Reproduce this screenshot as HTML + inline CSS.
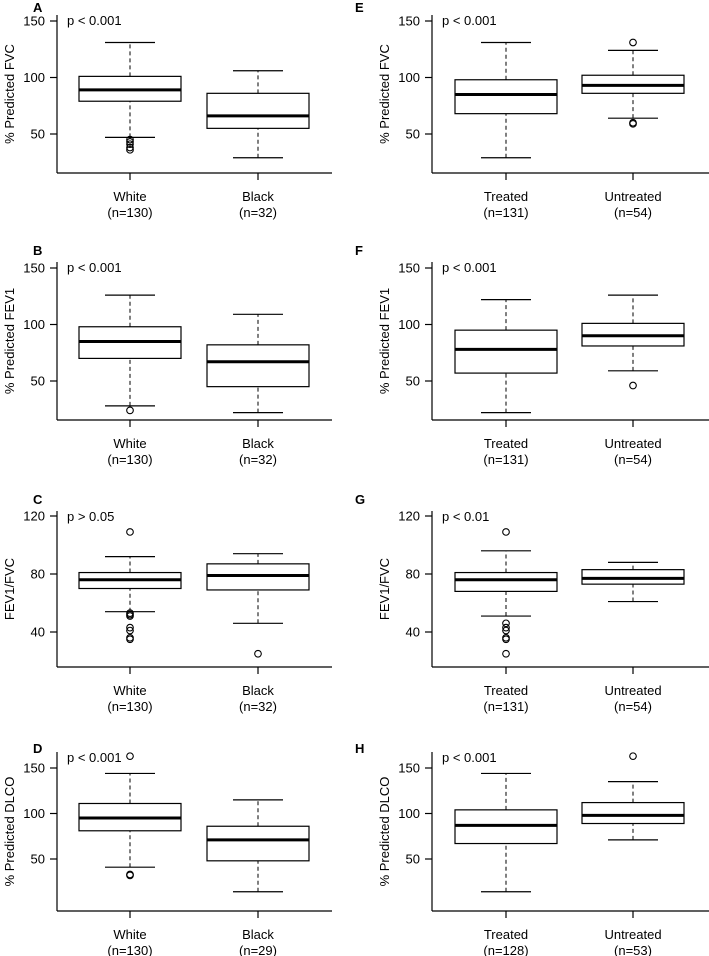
<!DOCTYPE html>
<html><head><meta charset="utf-8">
<style>
html,body{margin:0;padding:0;background:#fff;}
svg{display:block;font-family:"Liberation Sans",Arial,sans-serif;}
</style></head>
<body>
<svg id="fig" width="709" height="956" viewBox="0 0 709 956" xmlns="http://www.w3.org/2000/svg"></svg>
<script>
// ---- data ----
const panelLetters = ["A","E","B","F","C","G","D","H"];
const panelYTitles = ["% Predicted FVC","% Predicted FVC","% Predicted FEV1","% Predicted FEV1","FEV1/FVC","FEV1/FVC","% Predicted DLCO","% Predicted DLCO"];
const panelPValues = ["p < 0.001","p < 0.001","p < 0.001","p < 0.001","p > 0.05","p < 0.01","p < 0.001","p < 0.001"];
const raceCategories = ["White","Black"];
const treatCategories = ["Treated","Untreated"];
const panelCounts = [["130","32"],["131","54"],["130","32"],["131","54"],["130","32"],["131","54"],["130","29"],["128","53"]];
const pctTicks = [50,100,150];
const ratioTicks = [40,80,120];
// five-number summaries per panel: [lowWhisker, q1, median, q3, highWhisker]
const statsA = [[47,79,89,101,131],[29,55,66,86,106]];
const statsE = [[29,68,85,98,131],[64,86,93,102,124]];
const statsB = [[28,70,85,98,126],[22,45,67,82,109]];
const statsF = [[22,57,78,95,122],[59,81,90,101,126]];
const statsC = [[54,70,76,81,92],[46,69,79,87,94]];
const statsG = [[51,68,76,81,96],[61,73,77,83,88]];
const statsD = [[41,81,95,111,144],[14,48,71,86,115]];
const statsH = [[14,67,87,104,144],[71,89,98,112,135]];
const outA = [[36,38,41,43,45],[]];
const outE = [[],[59,60,131]];
const outB = [[24],[]];
const outF = [[],[46]];
const outC = [[109,53,52,51,43,41,36,35],[25]];
const outG = [[109,46,43,41,36,35,25],[]];
const outD = [[163,33,32],[]];
const outH = [[],[163]];
const panelStats = [statsA,statsE,statsB,statsF,statsC,statsG,statsD,statsH];
const panelOutliers = [outA,outE,outB,outF,outC,outG,outD,outH];

// ---- layout ----
const rows = [
  {top:15,bottom:173,v1:150,p1:21,v2:50,p2:134,ticks:pctTicks,letterY:12},
  {top:262,bottom:420,v1:150,p1:268,v2:50,p2:381,ticks:pctTicks,letterY:255},
  {top:511,bottom:667,v1:120,p1:516,v2:40,p2:632,ticks:ratioTicks,letterY:504},
  {top:752,bottom:911,v1:150,p1:768,v2:50,p2:859,ticks:pctTicks,letterY:753}
];
const cols = [
  {axisX:57,centers:[130,258],right:332,titleX:10,letterX:33,pX:67,cats:raceCategories},
  {axisX:432,centers:[506,633],right:709,titleX:385,letterX:355,pX:442,cats:treatCategories}
];
const NS="http://www.w3.org/2000/svg";
const svg=document.getElementById('fig');
function mk(tag,attrs,parent){const e=document.createElementNS(NS,tag);for(const k in attrs)e.setAttribute(k,attrs[k]);(parent||svg).appendChild(e);return e;}

for(let i=0;i<8;i++){
  const r=rows[Math.floor(i/2)], c=cols[i%2];
  const y=v=>r.p1+(v-r.v1)*(r.p2-r.p1)/(r.v2-r.v1);
  const g=mk('g',{});
  
  
  const L=mk('text',{x:c.letterX,y:r.letterY,'font-size':13,'font-weight':'bold'},g);L.textContent=panelLetters[i];
  
  
  const yax=mk('line',{x1:c.axisX,y1:r.top,x2:c.axisX,y2:r.bottom,stroke:'#000','stroke-width':1.2},g);
  
  
  const xax=mk('line',{x1:c.axisX,y1:r.bottom,x2:c.right,y2:r.bottom,stroke:'#000','stroke-width':1.2},g);
  
  
  r.ticks.forEach(t=>{
    const ty=y(t);
    mk('line',{x1:c.axisX-7,y1:ty,x2:c.axisX,y2:ty,stroke:'#000','stroke-width':1.2},g);
    const tt=mk('text',{x:c.axisX-12,y:ty+4.5,'font-size':13,'text-anchor':'end'},g);tt.textContent=t;
    
    
  });
  const cy=(r.top+r.bottom)/2;
  const yt=mk('text',{x:c.titleX,y:cy,'font-size':13,'text-anchor':'middle',transform:`rotate(-90 ${c.titleX} ${cy}) translate(0 4)`},g);yt.textContent=panelYTitles[i];
  
  
  const pt=mk('text',{x:c.pX,y:r.top+10,'font-size':13},g);pt.textContent=panelPValues[i];
  
  
  for(let k=0;k<2;k++){
    const s=panelStats[i][k], cx=c.centers[k];
    const bg=mk('g',{},g);
    
    
    mk('line',{x1:cx,y1:y(s[0]),x2:cx,y2:y(s[1]),stroke:'#000','stroke-width':1,'stroke-dasharray':'4,3'},bg);
    mk('line',{x1:cx,y1:y(s[3]),x2:cx,y2:y(s[4]),stroke:'#000','stroke-width':1,'stroke-dasharray':'4,3'},bg);
    mk('line',{x1:cx-25,y1:y(s[0]),x2:cx+25,y2:y(s[0]),stroke:'#000','stroke-width':1.2},bg);
    mk('line',{x1:cx-25,y1:y(s[4]),x2:cx+25,y2:y(s[4]),stroke:'#000','stroke-width':1.2},bg);
    mk('rect',{x:cx-51,y:y(s[3]),width:102,height:y(s[1])-y(s[3]),fill:'#fff',stroke:'#000','stroke-width':1.2},bg);
    mk('line',{x1:cx-51,y1:y(s[2]),x2:cx+51,y2:y(s[2]),stroke:'#000','stroke-width':3},bg);
    panelOutliers[i][k].forEach(v=>{
      const o=mk('circle',{cx:cx,cy:y(v),r:3.3,fill:'none',stroke:'#000','stroke-width':1.1},bg);
      
      
    });
    mk('line',{x1:cx,y1:r.bottom,x2:cx,y2:r.bottom+7,stroke:'#000','stroke-width':1.2},g);
    const l1=mk('text',{x:cx,y:r.bottom+28,'font-size':13,'text-anchor':'middle'},g);l1.textContent=c.cats[k];
    
    
    const l2=mk('text',{x:cx,y:r.bottom+44,'font-size':13,'text-anchor':'middle'},g);l2.textContent='(n='+panelCounts[i][k]+')';
    
    
  }
}
</script>
</body></html>
